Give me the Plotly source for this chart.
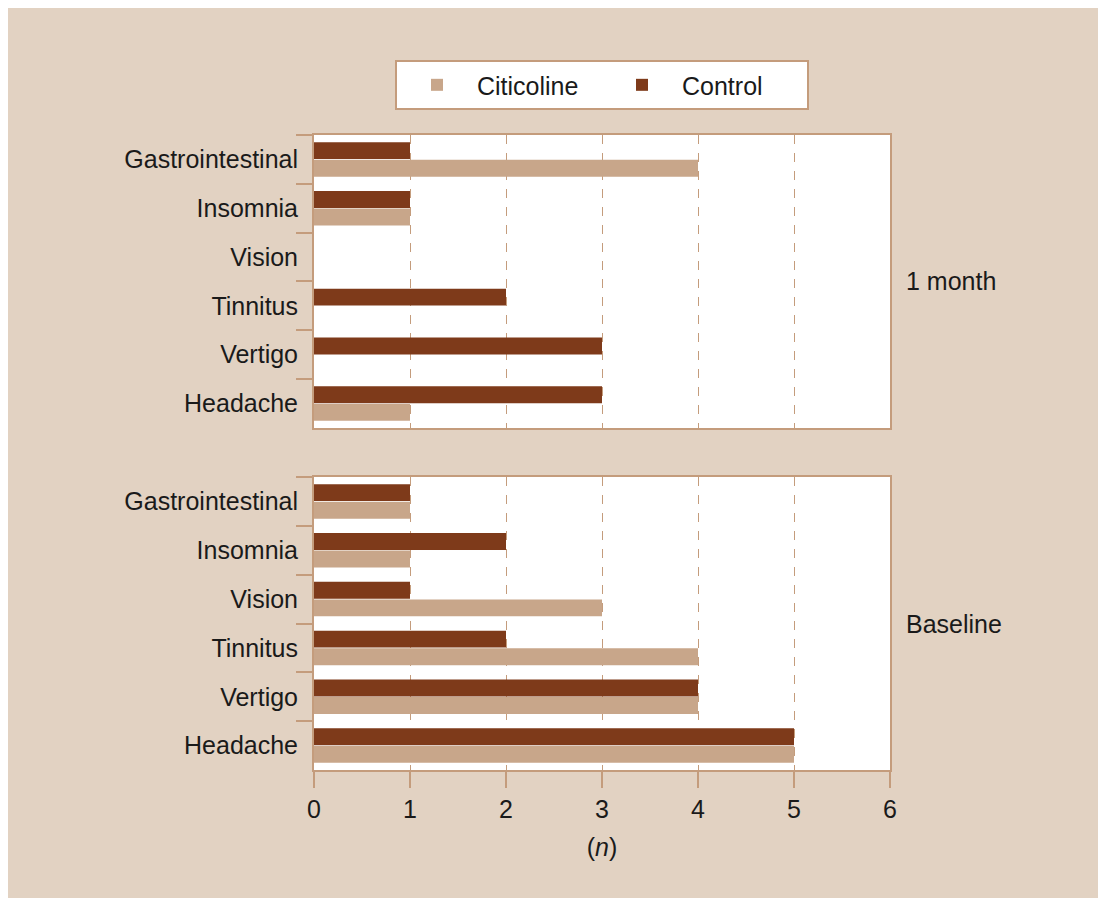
import plotly.graph_objects as go
from plotly.subplots import make_subplots

# categories, bottom to top
symptoms = ["Headache", "Vertigo", "Tinnitus", "Vision", "Insomnia", "Gastrointestinal"]

month1_citicoline = [1, 0, 0, 0, 1, 4]
month1_control = [3, 3, 2, 0, 1, 1]

baseline_citicoline = [5, 4, 4, 3, 1, 1]
baseline_control = [5, 4, 2, 1, 2, 1]

x_ticks = [0, 1, 2, 3, 4, 5, 6]

LIGHT = "#C8A68A"
DARK = "#7E3A1A"
BG = "#E2D2C2"
AXIS = "#C49C7C"
FONT = "Liberation Sans"
TXT = "#1a1a1a"
FS = 25

fig = make_subplots(rows=2, cols=1, shared_xaxes=True, vertical_spacing=0.0772)

panels = [(1, month1_citicoline, month1_control, True),
          (2, baseline_citicoline, baseline_control, False)]
for row, cit, ctl, show in panels:
    fig.add_trace(go.Bar(y=symptoms, x=cit, orientation="h", name="Citicoline",
                         marker=dict(color=LIGHT, line=dict(width=0)),
                         showlegend=show, legendgroup="cit"), row=row, col=1)
    fig.add_trace(go.Bar(y=symptoms, x=ctl, orientation="h", name="Control",
                         marker=dict(color=DARK, line=dict(width=0)),
                         showlegend=show, legendgroup="ctl"), row=row, col=1)

for row in (1, 2):
    fig.update_yaxes(row=row, col=1, type="category", categoryorder="array",
                     categoryarray=symptoms, tickson="boundaries", ticks="outside",
                     ticklen=16, tickcolor=AXIS, tickwidth=2, showline=True,
                     linecolor=AXIS, linewidth=2, mirror=True, showgrid=False,
                     ticklabelstandoff=9,
                     tickfont=dict(size=FS, color=TXT, family=FONT))
    fig.update_xaxes(row=row, col=1, range=[0, 6], tickvals=x_ticks,
                     showline=True, linecolor=AXIS, linewidth=2, mirror=True,
                     showgrid=True, gridcolor=AXIS, griddash="dash", gridwidth=1,
                     zeroline=False)

fig.update_xaxes(row=2, col=1, ticks="outside", ticklen=16, tickcolor=AXIS, tickwidth=2,
                 tickfont=dict(size=FS, color=TXT, family=FONT),
                 title=dict(text="(<i>n</i>)", font=dict(size=FS, color=TXT, family=FONT),
                            standoff=16))

fig.add_annotation(text="1 month", xref="paper", yref="y domain", x=1.025, y=0.5,
                   xanchor="left", yanchor="middle", showarrow=False,
                   font=dict(size=FS, color=TXT, family=FONT))
fig.add_annotation(text="Baseline", xref="paper", yref="y2 domain", x=1.025, y=0.5,
                   xanchor="left", yanchor="middle", showarrow=False,
                   font=dict(size=FS, color=TXT, family=FONT))

fig.update_layout(
    width=1090, height=890,
    paper_bgcolor=BG, plot_bgcolor="white",
    barmode="group", bargap=0.28, bargroupgap=0.04,
    margin=dict(l=306, r=208, t=127, b=128),
    font=dict(family=FONT, size=FS, color=TXT),
    legend=dict(orientation="h", x=0.5, xanchor="center", y=1.118, yanchor="top",
                bgcolor="white", bordercolor=AXIS, borderwidth=2,
                font=dict(size=FS, family=FONT), itemwidth=70, entrywidth=120,
                traceorder="normal"),
)

fig.write_html("out.html")
